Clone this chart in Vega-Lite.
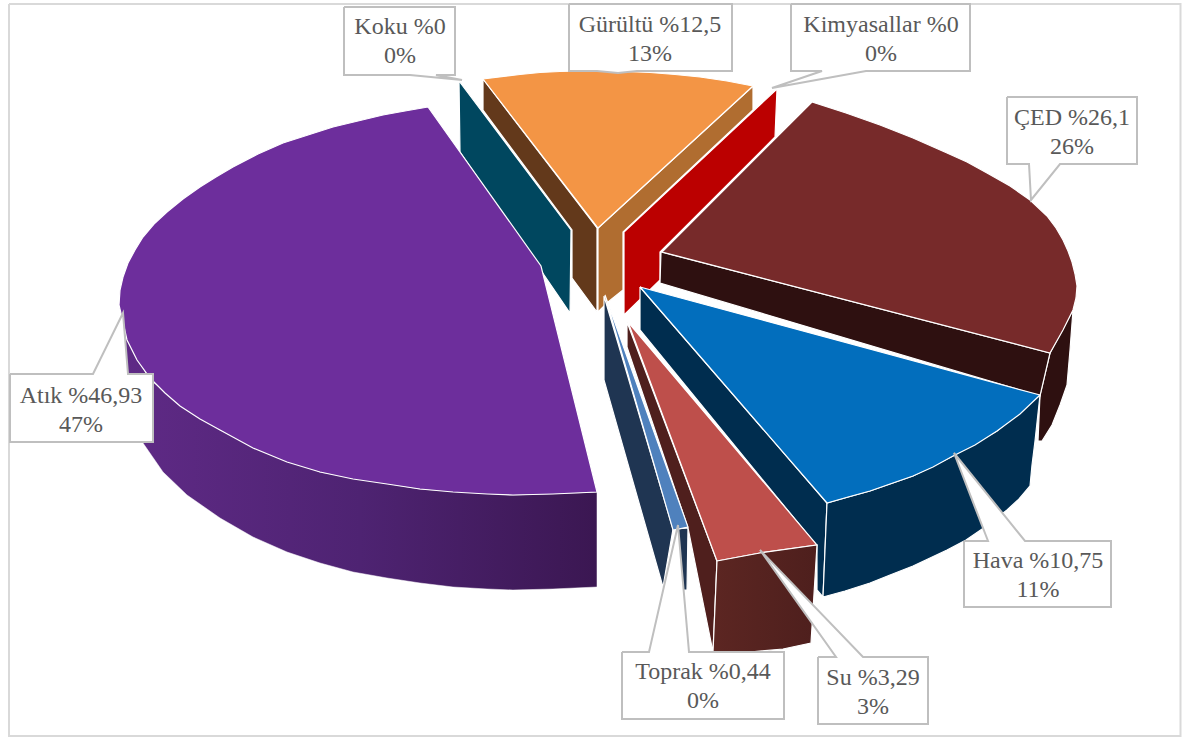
{"$schema":"https://vega.github.io/schema/vega-lite/v6.json","width":1182,"height":737,"padding":0,"autosize":{"type":"none"},"background":"white","view":{"stroke":null},
"datasets":{
"frame":[{"x":9,"y":4,"i":0},{"x":1180.5,"y":4,"i":1},{"x":1180.5,"y":736,"i":2},{"x":9,"y":736,"i":3},{"x":9,"y":4,"i":4}],
"atikSide":[{"x":123,"y":313,"i":0},{"x":127,"y":340,"i":1},{"x":150,"y":380,"i":2},{"x":220,"y":430,"i":3},{"x":320,"y":472,"i":4},{"x":420,"y":489,"i":5},{"x":513,"y":495,"i":6},{"x":597,"y":492,"i":7},{"x":597,"y":587,"i":8},{"x":553,"y":589,"i":9},{"x":513,"y":590,"i":10},{"x":487,"y":589,"i":11},{"x":453,"y":587,"i":12},{"x":420,"y":583,"i":13},{"x":387,"y":578,"i":14},{"x":353,"y":572,"i":15},{"x":320,"y":563,"i":16},{"x":287,"y":552,"i":17},{"x":253,"y":537,"i":18},{"x":220,"y":518,"i":19},{"x":187,"y":495,"i":20},{"x":163,"y":472,"i":21},{"x":143,"y":443,"i":22},{"x":128,"y":395,"i":23},{"x":123,"y":313,"i":24}],
"suSide":[{"x":717,"y":561,"i":0},{"x":760,"y":553,"i":1},{"x":817,"y":545,"i":2},{"x":811,"y":643,"i":3},{"x":783,"y":649,"i":4},{"x":750,"y":652,"i":5},{"x":713,"y":652,"i":6},{"x":717,"y":561,"i":7}],
"faces":[
{"part":"kokuYan","i":0,"x":459,"y":81},{"part":"kokuYan","i":1,"x":571,"y":230},{"part":"kokuYan","i":2,"x":570,"y":313},{"part":"kokuYan","i":3,"x":460,"y":152},{"part":"kokuYan","i":4,"x":459,"y":81},
{"part":"gurultuSol","i":0,"x":483,"y":79},{"part":"gurultuSol","i":1,"x":597,"y":228},{"part":"gurultuSol","i":2,"x":597,"y":312},{"part":"gurultuSol","i":3,"x":572,"y":278},{"part":"gurultuSol","i":4,"x":572,"y":230},{"part":"gurultuSol","i":5,"x":483,"y":110},{"part":"gurultuSol","i":6,"x":483,"y":79},
{"part":"gurultuSag","i":0,"x":598,"y":228},{"part":"gurultuSag","i":1,"x":753,"y":86},{"part":"gurultuSag","i":2,"x":753,"y":110},{"part":"gurultuSag","i":3,"x":623,"y":232},{"part":"gurultuSag","i":4,"x":623,"y":290},{"part":"gurultuSag","i":5,"x":608,"y":302},{"part":"gurultuSag","i":6,"x":598,"y":312},{"part":"gurultuSag","i":7,"x":598,"y":228},
{"part":"gurultuUst","i":0,"x":483,"y":79},{"part":"gurultuUst","i":1,"x":520,"y":74.5},{"part":"gurultuUst","i":2,"x":540,"y":72.5},{"part":"gurultuUst","i":3,"x":560,"y":71.5},{"part":"gurultuUst","i":4,"x":580,"y":71},{"part":"gurultuUst","i":5,"x":600,"y":71},{"part":"gurultuUst","i":6,"x":625,"y":71.5},{"part":"gurultuUst","i":7,"x":650,"y":72.5},{"part":"gurultuUst","i":8,"x":675,"y":74.5},{"part":"gurultuUst","i":9,"x":700,"y":77},{"part":"gurultuUst","i":10,"x":727,"y":81},{"part":"gurultuUst","i":11,"x":753,"y":86},{"part":"gurultuUst","i":12,"x":598,"y":228},{"part":"gurultuUst","i":13,"x":483,"y":79},
{"part":"kimyasal","i":0,"x":624,"y":232},{"part":"kimyasal","i":1,"x":777,"y":89},{"part":"kimyasal","i":2,"x":775,"y":137},{"part":"kimyasal","i":3,"x":660,"y":252},{"part":"kimyasal","i":4,"x":660,"y":280},{"part":"kimyasal","i":5,"x":624,"y":315},{"part":"kimyasal","i":6,"x":624,"y":232},
{"part":"cedDis","i":0,"x":1073,"y":310},{"part":"cedDis","i":1,"x":1070,"y":350},{"part":"cedDis","i":2,"x":1067,"y":385},{"part":"cedDis","i":3,"x":1060,"y":405},{"part":"cedDis","i":4,"x":1052,"y":425},{"part":"cedDis","i":5,"x":1042,"y":441},{"part":"cedDis","i":6,"x":1038,"y":441},{"part":"cedDis","i":7,"x":1040,"y":395},{"part":"cedDis","i":8,"x":1050,"y":353},{"part":"cedDis","i":9,"x":1073,"y":310},
{"part":"cedIc","i":0,"x":661,"y":252},{"part":"cedIc","i":1,"x":1050,"y":353},{"part":"cedIc","i":2,"x":1040,"y":396},{"part":"cedIc","i":3,"x":660,"y":283},{"part":"cedIc","i":4,"x":661,"y":252},
{"part":"cedUst","i":0,"x":662,"y":252},{"part":"cedUst","i":1,"x":812,"y":102},{"part":"cedUst","i":2,"x":846,"y":113},{"part":"cedUst","i":3,"x":880,"y":125},{"part":"cedUst","i":4,"x":913,"y":138},{"part":"cedUst","i":5,"x":947,"y":153},{"part":"cedUst","i":6,"x":967,"y":162},{"part":"cedUst","i":7,"x":987,"y":173},{"part":"cedUst","i":8,"x":1010,"y":186},{"part":"cedUst","i":9,"x":1030,"y":200},{"part":"cedUst","i":10,"x":1047,"y":216},{"part":"cedUst","i":11,"x":1056,"y":228},{"part":"cedUst","i":12,"x":1063,"y":240},{"part":"cedUst","i":13,"x":1068,"y":251},{"part":"cedUst","i":14,"x":1072,"y":262},{"part":"cedUst","i":15,"x":1075,"y":274},{"part":"cedUst","i":16,"x":1077,"y":286},{"part":"cedUst","i":17,"x":1076,"y":298},{"part":"cedUst","i":18,"x":1073,"y":310},{"part":"cedUst","i":19,"x":1063,"y":330},{"part":"cedUst","i":20,"x":1050,"y":353},{"part":"cedUst","i":21,"x":662,"y":252},
{"part":"havaIc","i":0,"x":640,"y":287},{"part":"havaIc","i":1,"x":827,"y":503},{"part":"havaIc","i":2,"x":823,"y":597},{"part":"havaIc","i":3,"x":817,"y":590},{"part":"havaIc","i":4,"x":817,"y":546},{"part":"havaIc","i":5,"x":640,"y":330},{"part":"havaIc","i":6,"x":640,"y":287},
{"part":"havaDis","i":0,"x":827,"y":503},{"part":"havaDis","i":1,"x":870,"y":491},{"part":"havaDis","i":2,"x":913,"y":476},{"part":"havaDis","i":3,"x":953,"y":456},{"part":"havaDis","i":4,"x":997,"y":431},{"part":"havaDis","i":5,"x":1040,"y":395},{"part":"havaDis","i":6,"x":1035,"y":441},{"part":"havaDis","i":7,"x":1032,"y":465},{"part":"havaDis","i":8,"x":1030,"y":486},{"part":"havaDis","i":9,"x":1019,"y":499},{"part":"havaDis","i":10,"x":1007,"y":510},{"part":"havaDis","i":11,"x":985,"y":527},{"part":"havaDis","i":12,"x":966,"y":540},{"part":"havaDis","i":13,"x":947,"y":550},{"part":"havaDis","i":14,"x":913,"y":566},{"part":"havaDis","i":15,"x":890,"y":575},{"part":"havaDis","i":16,"x":870,"y":583},{"part":"havaDis","i":17,"x":845,"y":591},{"part":"havaDis","i":18,"x":823,"y":597},{"part":"havaDis","i":19,"x":827,"y":503},
{"part":"havaUst","i":0,"x":640,"y":287},{"part":"havaUst","i":1,"x":1040,"y":395},{"part":"havaUst","i":2,"x":1020,"y":414},{"part":"havaUst","i":3,"x":997,"y":431},{"part":"havaUst","i":4,"x":975,"y":445},{"part":"havaUst","i":5,"x":953,"y":456},{"part":"havaUst","i":6,"x":933,"y":467},{"part":"havaUst","i":7,"x":913,"y":476},{"part":"havaUst","i":8,"x":890,"y":484},{"part":"havaUst","i":9,"x":870,"y":491},{"part":"havaUst","i":10,"x":848,"y":497},{"part":"havaUst","i":11,"x":827,"y":503},{"part":"havaUst","i":12,"x":640,"y":287},
{"part":"toprakIc","i":0,"x":604,"y":296},{"part":"toprakIc","i":1,"x":673,"y":529},{"part":"toprakIc","i":2,"x":663,"y":587},{"part":"toprakIc","i":3,"x":604,"y":380},{"part":"toprakIc","i":4,"x":604,"y":296},
{"part":"toprakDis","i":0,"x":677,"y":529},{"part":"toprakDis","i":1,"x":688,"y":528},{"part":"toprakDis","i":2,"x":687,"y":590},{"part":"toprakDis","i":3,"x":682,"y":590},{"part":"toprakDis","i":4,"x":677,"y":529},
{"part":"suIc","i":0,"x":627,"y":322},{"part":"suIc","i":1,"x":717,"y":561},{"part":"suIc","i":2,"x":713,"y":652},{"part":"suIc","i":3,"x":688,"y":528},{"part":"suIc","i":4,"x":627,"y":347},{"part":"suIc","i":5,"x":627,"y":322},
{"part":"toprakUst","i":0,"x":605,"y":295},{"part":"toprakUst","i":1,"x":688,"y":527},{"part":"toprakUst","i":2,"x":673,"y":530},{"part":"toprakUst","i":3,"x":605,"y":295},
{"part":"suUst","i":0,"x":628,"y":322},{"part":"suUst","i":1,"x":817,"y":545},{"part":"suUst","i":2,"x":760,"y":553},{"part":"suUst","i":3,"x":717,"y":561},{"part":"suUst","i":4,"x":628,"y":322},
{"part":"atikUst","i":0,"x":428,"y":107},{"part":"atikUst","i":1,"x":405,"y":111},{"part":"atikUst","i":2,"x":383,"y":115},{"part":"atikUst","i":3,"x":358,"y":121},{"part":"atikUst","i":4,"x":333,"y":127},{"part":"atikUst","i":5,"x":308,"y":135},{"part":"atikUst","i":6,"x":283,"y":143},{"part":"atikUst","i":7,"x":258,"y":154},{"part":"atikUst","i":8,"x":233,"y":167},{"part":"atikUst","i":9,"x":216,"y":177},{"part":"atikUst","i":10,"x":200,"y":187},{"part":"atikUst","i":11,"x":183,"y":199},{"part":"atikUst","i":12,"x":167,"y":212},{"part":"atikUst","i":13,"x":154,"y":224},{"part":"atikUst","i":14,"x":143,"y":237},{"part":"atikUst","i":15,"x":135,"y":250},{"part":"atikUst","i":16,"x":128,"y":263},{"part":"atikUst","i":17,"x":123,"y":277},{"part":"atikUst","i":18,"x":120,"y":290},{"part":"atikUst","i":19,"x":119,"y":305},{"part":"atikUst","i":20,"x":123,"y":322},{"part":"atikUst","i":21,"x":127,"y":340},{"part":"atikUst","i":22,"x":137,"y":360},{"part":"atikUst","i":23,"x":150,"y":378},{"part":"atikUst","i":24,"x":165,"y":393},{"part":"atikUst","i":25,"x":180,"y":406},{"part":"atikUst","i":26,"x":200,"y":419},{"part":"atikUst","i":27,"x":220,"y":430},{"part":"atikUst","i":28,"x":253,"y":448},{"part":"atikUst","i":29,"x":287,"y":462},{"part":"atikUst","i":30,"x":320,"y":472},{"part":"atikUst","i":31,"x":353,"y":479},{"part":"atikUst","i":32,"x":387,"y":484},{"part":"atikUst","i":33,"x":420,"y":489},{"part":"atikUst","i":34,"x":453,"y":492},{"part":"atikUst","i":35,"x":487,"y":494},{"part":"atikUst","i":36,"x":513,"y":495},{"part":"atikUst","i":37,"x":553,"y":494},{"part":"atikUst","i":38,"x":597,"y":492},{"part":"atikUst","i":39,"x":541,"y":266},{"part":"atikUst","i":40,"x":428,"y":107}
],
"boxes":[
{"label":"Koku","i":0,"x":344,"y":7},{"label":"Koku","i":1,"x":455,"y":7},{"label":"Koku","i":2,"x":455,"y":75},{"label":"Koku","i":3,"x":436,"y":75},{"label":"Koku","i":4,"x":462,"y":80},{"label":"Koku","i":5,"x":410,"y":75},{"label":"Koku","i":6,"x":344,"y":75},{"label":"Koku","i":7,"x":344,"y":7},
{"label":"Gurultu","i":0,"x":569,"y":4},{"label":"Gurultu","i":1,"x":732,"y":4},{"label":"Gurultu","i":2,"x":732,"y":71},{"label":"Gurultu","i":3,"x":637,"y":71},{"label":"Gurultu","i":4,"x":618,"y":73},{"label":"Gurultu","i":5,"x":597,"y":71},{"label":"Gurultu","i":6,"x":569,"y":71},{"label":"Gurultu","i":7,"x":569,"y":4},
{"label":"Kimyasal","i":0,"x":791,"y":4},{"label":"Kimyasal","i":1,"x":970,"y":4},{"label":"Kimyasal","i":2,"x":970,"y":71},{"label":"Kimyasal","i":3,"x":866,"y":71},{"label":"Kimyasal","i":4,"x":772,"y":88},{"label":"Kimyasal","i":5,"x":822,"y":71},{"label":"Kimyasal","i":6,"x":791,"y":71},{"label":"Kimyasal","i":7,"x":791,"y":4},
{"label":"CED","i":0,"x":1007,"y":97},{"label":"CED","i":1,"x":1137,"y":97},{"label":"CED","i":2,"x":1137,"y":164},{"label":"CED","i":3,"x":1060,"y":164},{"label":"CED","i":4,"x":1031,"y":200},{"label":"CED","i":5,"x":1029,"y":164},{"label":"CED","i":6,"x":1007,"y":164},{"label":"CED","i":7,"x":1007,"y":97},
{"label":"Hava","i":0,"x":964,"y":541},{"label":"Hava","i":1,"x":988,"y":541},{"label":"Hava","i":2,"x":954,"y":453},{"label":"Hava","i":3,"x":1025,"y":541},{"label":"Hava","i":4,"x":1111,"y":541},{"label":"Hava","i":5,"x":1111,"y":607},{"label":"Hava","i":6,"x":964,"y":607},{"label":"Hava","i":7,"x":964,"y":541},
{"label":"Su","i":0,"x":818,"y":657},{"label":"Su","i":1,"x":836,"y":657},{"label":"Su","i":2,"x":760,"y":550},{"label":"Su","i":3,"x":863,"y":657},{"label":"Su","i":4,"x":928,"y":657},{"label":"Su","i":5,"x":928,"y":724},{"label":"Su","i":6,"x":818,"y":724},{"label":"Su","i":7,"x":818,"y":657},
{"label":"Toprak","i":0,"x":622,"y":652},{"label":"Toprak","i":1,"x":649,"y":652},{"label":"Toprak","i":2,"x":678,"y":525},{"label":"Toprak","i":3,"x":689,"y":652},{"label":"Toprak","i":4,"x":784,"y":652},{"label":"Toprak","i":5,"x":784,"y":719},{"label":"Toprak","i":6,"x":622,"y":719},{"label":"Toprak","i":7,"x":622,"y":652},
{"label":"Atik","i":0,"x":10,"y":374},{"label":"Atik","i":1,"x":93,"y":374},{"label":"Atik","i":2,"x":123,"y":313},{"label":"Atik","i":3,"x":128,"y":374},{"label":"Atik","i":4,"x":153,"y":374},{"label":"Atik","i":5,"x":153,"y":442},{"label":"Atik","i":6,"x":10,"y":442},{"label":"Atik","i":7,"x":10,"y":374}
],
"labels":[
{"text":"Koku %0\n0%","x":400,"y":27},
{"text":"Gürültü %12,5\n13%","x":650,"y":25},
{"text":"Kimyasallar %0\n0%","x":881,"y":25},
{"text":"ÇED %26,1\n26%","x":1072,"y":118},
{"text":"Hava %10,75\n11%","x":1038,"y":561},
{"text":"Su %3,29\n3%","x":873,"y":678},
{"text":"Toprak %0,44\n0%","x":703,"y":672},
{"text":"Atık %46,93\n47%","x":81,"y":396}
]},
"encoding":{"x":{"field":"x","type":"quantitative","scale":{"domain":[0,1182],"nice":false,"zero":false},"axis":null},"y":{"field":"y","type":"quantitative","scale":{"domain":[737,0],"nice":false,"zero":false},"axis":null}},
"layer":[
{"data":{"name":"frame"},"mark":{"type":"line","stroke":"#d9d9d9","strokeWidth":2},"encoding":{"order":{"field":"i","type":"quantitative"}}},
{"data":{"name":"atikSide"},"mark":{"type":"line","stroke":"#ffffff","strokeWidth":0.5,"fill":{"gradient":"linear","x1":0,"x2":1,"y1":0,"y2":0,"stops":[{"offset":0,"color":"#5f2a86"},{"offset":0.5,"color":"#4e2372"},{"offset":1,"color":"#3b1752"}]}},"encoding":{"order":{"field":"i","type":"quantitative"}}},
{"data":{"name":"faces"},"mark":{"type":"line","stroke":"#ffffff","strokeWidth":1.2,"strokeJoin":"miter"},"encoding":{"order":{"field":"i","type":"quantitative"},"detail":{"field":"part"},"fill":{"field":"part","type":"nominal","legend":null,"scale":{"domain":["kokuYan","gurultuSol","gurultuSag","gurultuUst","kimyasal","cedDis","cedIc","cedUst","havaIc","havaDis","havaUst","toprakIc","toprakDis","toprakUst","suIc","suUst","atikUst"],"range":["#00475f","#63391b","#b06d30","#f39545","#bb0000","#2e1010","#2e1010","#772a2a","#002d4f","#002d4f","#026ebd","#1f3552","#1f3552","#4f81bd","#4f1f1d","#be4f4b","#6d2e9c"]}}}},
{"data":{"name":"suSide"},"mark":{"type":"line","stroke":"#ffffff","strokeWidth":1.2,"fill":{"gradient":"linear","x1":0,"x2":1,"y1":0,"y2":0,"stops":[{"offset":0,"color":"#5c2622"},{"offset":1,"color":"#4e1f1d"}]}},"encoding":{"order":{"field":"i","type":"quantitative"}}},
{"data":{"name":"boxes"},"mark":{"type":"line","stroke":"#bfbfbf","strokeWidth":2,"fill":"#ffffff","strokeJoin":"miter"},"encoding":{"order":{"field":"i","type":"quantitative"},"detail":{"field":"label"}}},
{"data":{"name":"labels"},"mark":{"type":"text","font":"Liberation Serif","fontSize":24,"color":"#595959","align":"center","baseline":"middle","lineBreak":"\n","lineHeight":29},"encoding":{"text":{"field":"text"}}}
]}
